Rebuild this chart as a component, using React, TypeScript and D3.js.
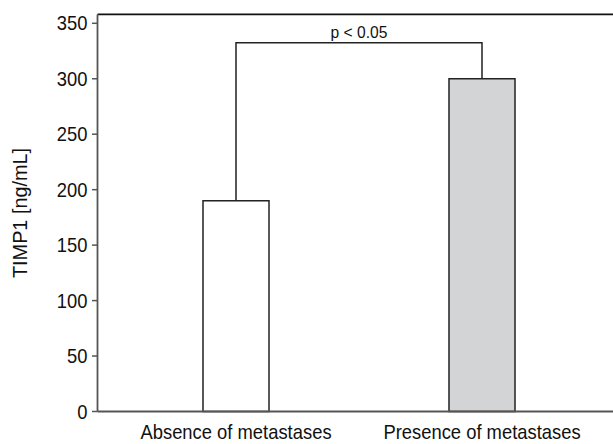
import React from "react";
import * as d3 from "d3";

const categories = ["Absence of metastases", "Presence of metastases"];
const values = [190, 300];
const fills = ["#ffffff", "#d3d4d6"];
const yTicks = [0, 50, 100, 150, 200, 250, 300, 350];
const bracketValue = 332.5;
const pLabel = "p < 0.05";
const yLabel = "TIMP1 [ng/mL]";

const W = 613;
const H = 444;
const FONT = "'Liberation Sans', Arial, Helvetica, sans-serif";
const SX = 0.92;

function T({ x, y, anchor, size, children }: any) {
  return (
    <text transform={`translate(${x},${y}) scale(${SX},1)`} textAnchor={anchor} fontSize={size}>
      {children}
    </text>
  );
}

export default function App() {
  const left = 97.5;
  const right = 613;
  const y = d3.scaleLinear().domain([0, 350]).range([411.5, 23.3]);
  const yTop = y(358);
  const x = d3.scaleBand().domain(categories).range([80, 638]).paddingInner(0.7317).paddingOuter(0.5);
  const bw = x.bandwidth();
  const cx = (c: string) => (x(c) as number) + bw / 2;
  const bY = y(bracketValue);
  return (
    <svg width={W} height={H} style={{ position: "absolute", left: 0, top: 0, background: "#fff" }}>
      <g fontFamily={FONT} fill="#111">
        {categories.map((c, i) => (
          <rect key={c} x={x(c)} y={y(values[i])} width={bw} height={y(0) - y(values[i])}
            fill={fills[i]} stroke="#222" strokeWidth={1.5} />
        ))}
        <path d={`M${cx(categories[0])},${y(values[0])}V${bY}H${cx(categories[1])}V${y(values[1])}`}
          fill="none" stroke="#222" strokeWidth={1.5} />
        <T x={(cx(categories[0]) + cx(categories[1])) / 2} y={38} anchor="middle" size={17}>{pLabel}</T>
        <line x1={left} x2={right} y1={yTop} y2={yTop} stroke="#111" strokeWidth={1.8} />
        <line x1={left} x2={left} y1={yTop} y2={y(0)} stroke="#555" strokeWidth={1.8} />
        {yTicks.map((t) => (
          <g key={t}>
            <line x1={left - 5.5} x2={left} y1={y(t)} y2={y(t)} stroke="#555" strokeWidth={1.5} />
            <T x={left - 10} y={y(t) + 7} anchor="end" size={20}>{t}</T>
          </g>
        ))}
        <line x1={left} x2={right} y1={y(0)} y2={y(0)} stroke="#555" strokeWidth={1.8} />
        {categories.map((c) => (
          <T key={c} x={cx(c)} y={439} anchor="middle" size={20}>{c}</T>
        ))}
        <text transform={`translate(27,213) rotate(-90)`} textAnchor="middle" fontSize={20}
          textLength={130} lengthAdjust="spacingAndGlyphs">{yLabel}</text>
      </g>
    </svg>
  );
}
